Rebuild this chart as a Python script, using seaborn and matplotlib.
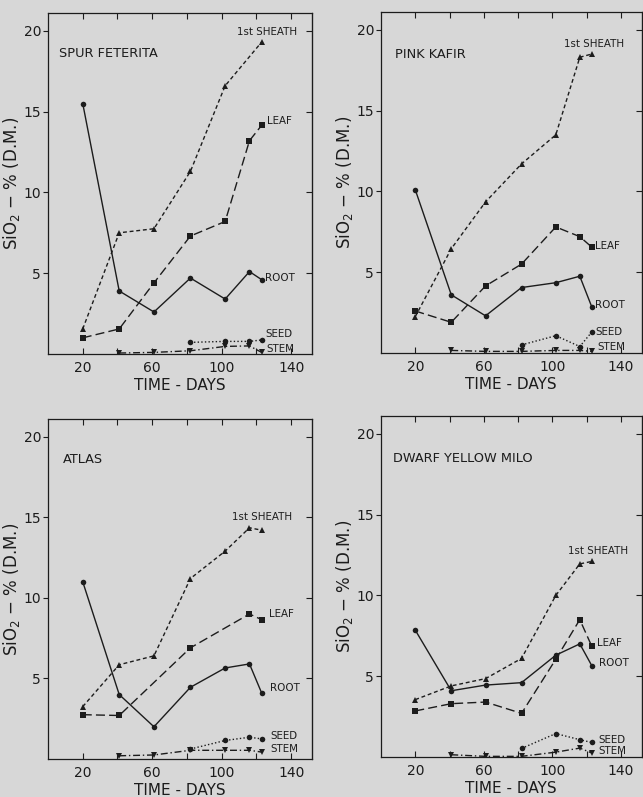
import matplotlib
matplotlib.use("Agg")
import matplotlib.pyplot as plt
import pandas as pd
import seaborn as sns

# sampling days (approx.) shared by all four varieties
days = [20, 41, 61, 82, 102, 116, 123]
parts = ["ROOT", "1st SHEATH", "LEAF", "SEED", "STEM"]
varieties = ["SPUR FETERITA", "PINK KAFIR", "ATLAS", "DWARF YELLOW MILO"]

# SiO2 - % of dry matter (None = no sample)
spur_root = [15.5, 3.9, 2.6, 4.7, 3.4, 5.1, 4.6]
spur_sheath = [1.55, 7.5, 7.75, 11.3, 16.6, None, 19.3]
spur_leaf = [1.0, 1.55, 4.4, 7.3, 8.2, 13.2, 14.15]
spur_seed = [None, None, None, 0.72, 0.78, 0.78, 0.87]
spur_stem = [None, 0.06, 0.1, 0.2, 0.47, 0.5, 0.1]

pink_root = [10.1, 3.6, 2.3, 4.05, 4.35, 4.75, 2.85]
pink_sheath = [2.25, 6.45, 9.35, 11.7, 13.5, 18.3, 18.5]
pink_leaf = [2.6, 1.9, 4.15, 5.5, 7.8, 7.2, 6.55]
pink_seed = [None, None, None, 0.5, 1.07, 0.4, 1.3]
pink_stem = [None, 0.16, 0.1, 0.1, 0.16, 0.16, 0.1]

atlas_root = [11.0, 4.0, 2.0, 4.45, 5.65, 5.9, 4.1]
atlas_sheath = [3.25, 5.85, 6.4, 11.2, 12.9, 14.35, 14.2]
atlas_leaf = [2.75, 2.7, None, 6.9, None, 9.0, 8.65]
atlas_seed = [None, None, None, 0.62, 1.15, 1.35, 1.25]
atlas_stem = [None, 0.2, 0.25, 0.54, 0.54, 0.54, 0.43]

milo_root = [7.85, 4.1, 4.45, 4.6, 6.3, 7.0, 5.65]
milo_sheath = [3.55, 4.4, 4.85, 6.1, 10.0, 11.95, 12.1]
milo_leaf = [2.85, 3.3, 3.4, 2.7, 6.05, 8.5, 6.85]
milo_seed = [None, None, None, 0.53, 1.45, 1.07, 0.9]
milo_stem = [None, 0.14, 0.04, 0.04, 0.3, 0.55, 0.25]

series = {
    "SPUR FETERITA": [spur_root, spur_sheath, spur_leaf, spur_seed, spur_stem],
    "PINK KAFIR": [pink_root, pink_sheath, pink_leaf, pink_seed, pink_stem],
    "ATLAS": [atlas_root, atlas_sheath, atlas_leaf, atlas_seed, atlas_stem],
    "DWARF YELLOW MILO": [milo_root, milo_sheath, milo_leaf, milo_seed, milo_stem],
}

rows = []
for var, vals in series.items():
    for part, ys in zip(parts, vals):
        for d, y in zip(days, ys):
            if y is not None:
                rows.append({"variety": var, "part": part, "day": d, "sio2": y})
df = pd.DataFrame(rows)

# curve label anchors (day, value) for each panel
label_pos = {
    "SPUR FETERITA": {"1st SHEATH": (109, 19.9), "LEAF": (126, 14.4), "ROOT": (125, 4.7),
                      "SEED": (125, 1.25), "STEM": (126, 0.3)},
    "PINK KAFIR": {"1st SHEATH": (107, 19.1), "LEAF": (125, 6.6), "ROOT": (125, 3.0),
                   "SEED": (125, 1.3), "STEM": (126, 0.35)},
    "ATLAS": {"1st SHEATH": (106, 15.0), "LEAF": (127, 9.0), "ROOT": (128, 4.4),
              "SEED": (128, 1.45), "STEM": (128, 0.6)},
    "DWARF YELLOW MILO": {"1st SHEATH": (109, 12.75), "LEAF": (126, 7.05), "ROOT": (127, 5.8),
                          "SEED": (127, 1.07), "STEM": (127, 0.37)},
}
title_pos = {"SPUR FETERITA": (0.04, 0.88), "PINK KAFIR": (0.055, 0.875),
             "ATLAS": (0.057, 0.88), "DWARF YELLOW MILO": (0.047, 0.875)}

ink = "#1c1c1c"
paper = "#d7d7d7"

sns.set_style("ticks")
plt.rcParams["font.family"] = ["DejaVu Sans"]
plt.rcParams["text.color"] = ink
plt.rcParams["axes.labelcolor"] = ink
plt.rcParams["xtick.color"] = ink
plt.rcParams["ytick.color"] = ink

dashes = {"ROOT": "", "1st SHEATH": (2.8, 2.0), "LEAF": (6.5, 3.0),
          "SEED": (1.0, 1.6), "STEM": (5.0, 2.0, 1.0, 2.0)}
markers = {"ROOT": "o", "1st SHEATH": "^", "LEAF": "s", "SEED": "o", "STEM": "v"}

fig = plt.figure(figsize=(6.43, 7.97), dpi=100, facecolor=paper)
boxes = [
    [48 / 643, 1 - 354 / 797, 264 / 643, 341 / 797],
    [381 / 643, 1 - 353 / 797, 260.5 / 643, 341 / 797],
    [48 / 643, 1 - 759 / 797, 264 / 643, 340 / 797],
    [381 / 643, 1 - 757 / 797, 260.5 / 643, 341 / 797],
]

for var, box in zip(varieties, boxes):
    ax = fig.add_axes(box)
    ax.set_facecolor(paper)
    sub = df[df.variety == var]
    sns.lineplot(data=sub, x="day", y="sio2", style="part", style_order=parts,
                 dashes=dashes, markers=markers, color=ink, estimator=None,
                 linewidth=1.0, markersize=4, markeredgewidth=0, legend=False, ax=ax)

    ax.set_xlim(0, 152)
    ax.set_ylim(0, 21.1)
    ax.set_xticks([20, 60, 100, 140])
    ax.set_xticks([40, 80, 120], minor=True)
    ax.set_yticks([5, 10, 15, 20])
    ax.tick_params(axis="x", which="both", direction="in", top=True, bottom=True,
                   length=4, width=0.8, labelsize=10, pad=5)
    ax.tick_params(axis="y", direction="out", length=3.5, width=0.8, labelsize=10, pad=1.5)
    sec = ax.secondary_yaxis("right")
    sec.set_yticks([5, 10, 15, 20])
    sec.tick_params(direction="in", length=4, width=0.8, labelright=False)
    for s in ax.spines.values():
        s.set_color(ink)
        s.set_linewidth(0.9)
    sec.spines["right"].set_color(ink)

    ax.set_xlabel("TIME - DAYS", fontsize=11, labelpad=2)
    ax.set_ylabel(r"SiO$_2$ $-$ % (D.M.)", fontsize=12, labelpad=1)
    tx, ty = title_pos[var]
    ax.text(tx, ty, var, transform=ax.transAxes, fontsize=9.3, ha="left", va="center")
    for part, (x, y) in label_pos[var].items():
        ax.text(x, y, part, fontsize=7.4, ha="left", va="center")

fig.savefig("out.png", dpi=100, facecolor=paper)
